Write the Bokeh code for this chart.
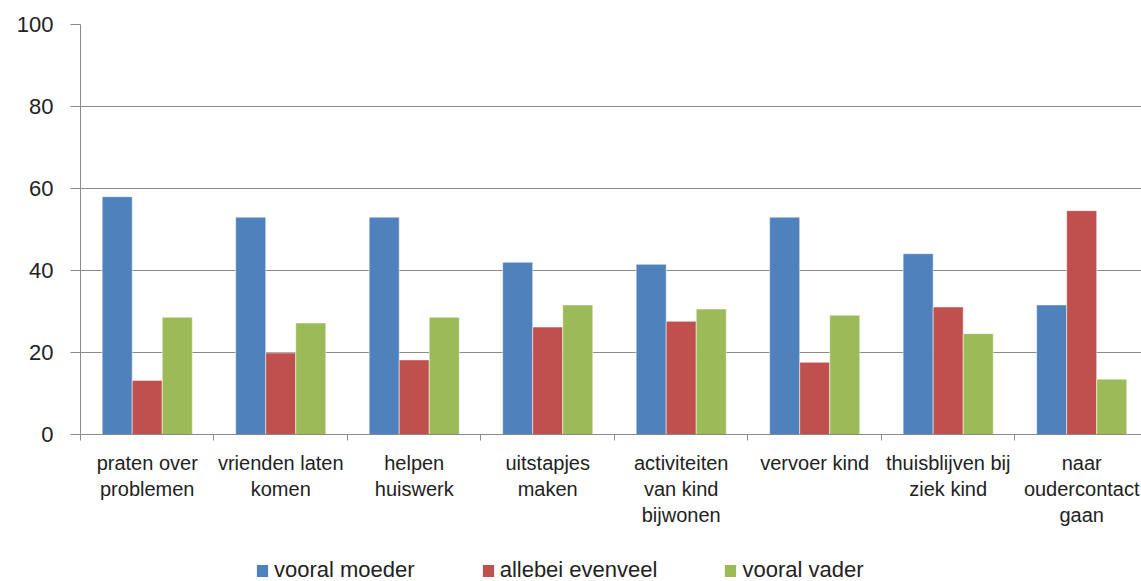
from bokeh.plotting import figure
from bokeh.layouts import column
from bokeh.models import (ColumnDataSource, Range1d, FixedTicker, Legend, LegendItem)
from bokeh.embed import file_html
from bokeh.resources import INLINE

categories = ["praten over\nproblemen", "vrienden laten\nkomen", "helpen\nhuiswerk",
              "uitstapjes\nmaken", "activiteiten\nvan kind\nbijwonen", "vervoer kind",
              "thuisblijven bij\nziek kind", "naar\noudercontact\ngaan"]
series_names = ["vooral moeder", "allebei evenveel", "vooral vader"]
vooral_moeder = [58.0, 53.0, 53.0, 42.0, 41.5, 53.0, 44.1, 31.6]
allebei_evenveel = [13.2, 19.9, 18.2, 26.2, 27.6, 17.6, 31.1, 54.6]
vooral_vader = [28.6, 27.2, 28.6, 31.6, 30.6, 29.1, 24.6, 13.5]
y_ticks = [0, 20, 40, 60, 80, 100]

colors = ["#4F81BD", "#C0504D", "#9BBB59"]
series = [vooral_moeder, allebei_evenveel, vooral_vader]

n = len(categories)
centers = [i + 0.5 for i in range(n)]
bounds = list(range(n + 1))

p = figure(width=1141, height=541, output_backend="svg", toolbar_location=None,
           x_range=Range1d(0, 7.948), y_range=Range1d(0, 100),
           min_border_left=80, min_border_top=24, min_border_right=0,
           min_border_bottom=107)
p.outline_line_color = None
p.background_fill_color = "white"

# legend strip: its bars lie far outside its own ranges (below-right), so only the legend shows
pl = figure(width=1141, height=40, output_backend="svg", toolbar_location=None,
            x_range=Range1d(-1001, -1000), y_range=Range1d(1000, 1001),
            x_axis_location=None, y_axis_location=None, min_border=0)
pl.outline_line_color = None
pl.xgrid.visible = False
pl.ygrid.visible = False

bar_w = 0.225
offsets = [-bar_w, 0.0, bar_w]
legend_renderers = []
for vals, col, off in zip(series, colors, offsets):
    src = ColumnDataSource(dict(x=[c + off for c in centers], top=vals))
    p.vbar(x="x", top="top", width=bar_w, bottom=0, source=src,
           fill_color=col, line_color="white", line_alpha=0.5, line_width=1)
    legend_renderers.append(pl.vbar(x="x", top="top", width=bar_w, bottom=0, source=src,
                                    fill_color=col, line_color=None))

grid_col = "#8a8a8a"
# y axis
yax = p.yaxis[0]
yax.ticker = FixedTicker(ticks=y_ticks)
yax.major_tick_out = 10
yax.major_tick_in = 0
yax.minor_tick_out = 0
yax.minor_tick_in = 0
yax.axis_line_color = grid_col
yax.major_tick_line_color = grid_col
yax.major_label_text_font = "Liberation Sans"
yax.major_label_text_font_size = "22px"
yax.major_label_text_color = "#222222"
yax.major_label_standoff = 17

# x axis
xax = p.xaxis[0]
xax.ticker = FixedTicker(ticks=centers, minor_ticks=bounds)
xax.major_label_overrides = {c: lab for c, lab in zip(centers, categories)}
xax.major_tick_out = 0
xax.major_tick_in = 0
xax.minor_tick_out = 6
xax.minor_tick_in = 0
xax.minor_tick_line_color = grid_col
xax.axis_line_color = grid_col
xax.major_label_text_font = "Liberation Sans"
xax.major_label_text_font_size = "20px"
xax.major_label_text_color = "#222222"
xax.major_label_text_line_height = 1.2
xax.major_label_standoff = 11

p.xgrid.grid_line_color = None
p.ygrid.ticker = FixedTicker(ticks=y_ticks)
p.ygrid.grid_line_color = grid_col
p.ygrid.grid_line_width = 1

legend = Legend(items=[LegendItem(label=nm, renderers=[r]) for nm, r in zip(series_names, legend_renderers)],
                location=(175, -2), orientation="horizontal",
                glyph_width=14, glyph_height=15, label_standoff=5, spacing=66,
                padding=0, margin=0, border_line_color=None,
                background_fill_alpha=0,
                label_text_font="Liberation Sans", label_text_font_size="22px",
                label_text_color="#222222")
pl.add_layout(legend)

layout = column(p, pl, spacing=0)
open("out.html", "w").write(file_html(layout, INLINE))
